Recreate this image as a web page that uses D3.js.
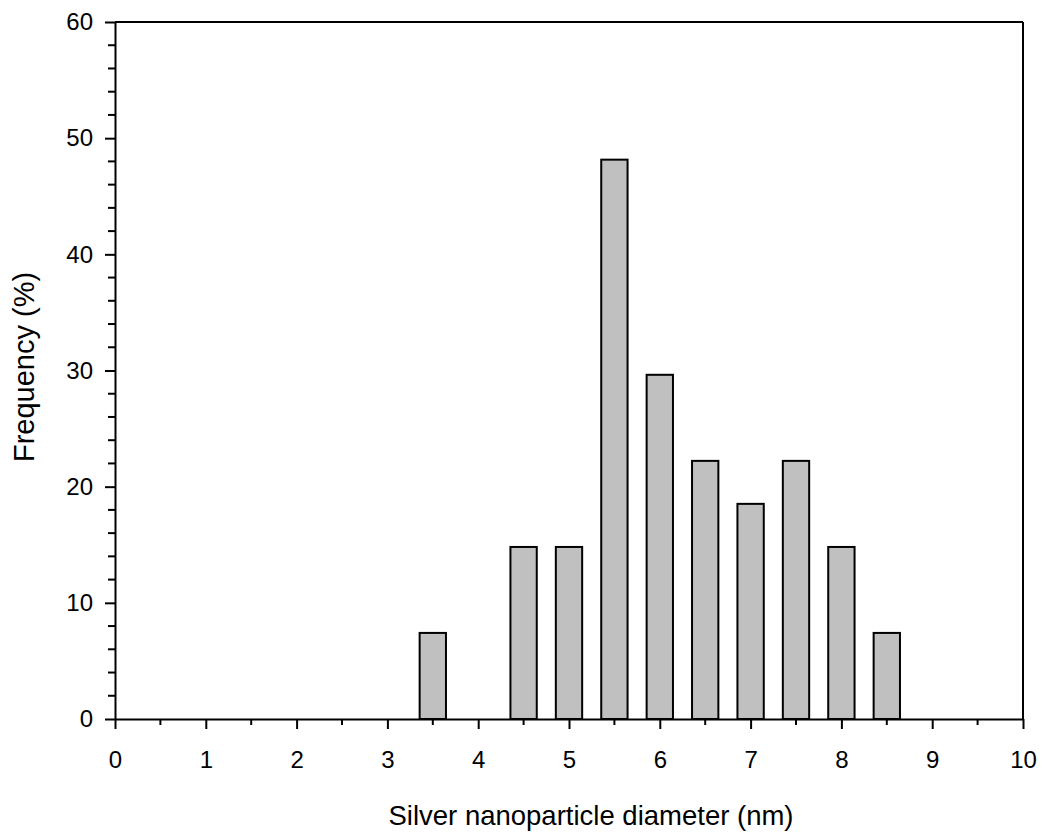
<!DOCTYPE html>
<html>
<head>
<meta charset="utf-8">
<script src="https://cdn.jsdelivr.net/npm/d3@7"></script>
<style>
  html, body { margin: 0; padding: 0; background: #fff; }
  svg { display: block; }
  text { font-family: "Liberation Sans", Arial, sans-serif; fill: #000; }
</style>
</head>
<body>
<svg id="chart" width="1043" height="837"></svg>
<script>
// Data
const diameters = [3.5, 4.5, 5.0, 5.5, 6.0, 6.5, 7.0, 7.5, 8.0, 8.5];
const frequencies = [7.41, 14.81, 14.81, 48.15, 29.63, 22.22, 18.52, 22.22, 14.81, 7.41];
const xTicks = [0,1,2,3,4,5,6,7,8,9,10];
const yTicks = [0,10,20,30,40,50,60];
const xLabel = "Silver nanoparticle diameter (nm)";
const yLabel = "Frequency (%)";

const svg = d3.select("#chart");
const mLeft = 115, mRight = 1023, mTop = 22, mBottom = 719;

const x = d3.scaleLinear().domain([0, 10]).range([mLeft, mRight]);
const y = d3.scaleLinear().domain([0, 60]).range([mBottom, mTop]);
const barW = 0.29;

// bars
svg.append("g").selectAll("rect")
  .data(diameters.map((d, i) => ({d, f: frequencies[i]})))
  .join("rect")
  .attr("x", o => x(o.d - barW / 2))
  .attr("width", o => x(o.d + barW / 2) - x(o.d - barW / 2))
  .attr("y", o => y(o.f))
  .attr("height", o => y(0) - y(o.f))
  .attr("fill", "#c0c0c0")
  .attr("stroke", "#000")
  .attr("stroke-width", 2);

// frame top & right
svg.append("line").attr("x1", mLeft).attr("x2", mRight).attr("y1", mTop).attr("y2", mTop)
  .attr("stroke", "#000").attr("stroke-width", 2);
svg.append("line").attr("x1", mRight).attr("x2", mRight).attr("y1", mTop).attr("y2", mBottom)
  .attr("stroke", "#000").attr("stroke-width", 2);

// x axis minor ticks
const xMinor = d3.range(0.5, 10, 1);
svg.append("g").selectAll("line").data(xMinor).join("line")
  .attr("x1", d => x(d)).attr("x2", d => x(d))
  .attr("y1", mBottom).attr("y2", mBottom + 6)
  .attr("stroke", "#000").attr("stroke-width", 2);

// y axis minor ticks
const yMinor = d3.range(0, 60, 2).filter(v => v % 10 !== 0);
svg.append("g").selectAll("line").data(yMinor).join("line")
  .attr("x1", mLeft - 7).attr("x2", mLeft)
  .attr("y1", d => y(d)).attr("y2", d => y(d))
  .attr("stroke", "#000").attr("stroke-width", 2);

// axes
const xAxis = svg.append("g").attr("transform", `translate(0,${mBottom})`)
  .call(d3.axisBottom(x).tickValues(xTicks).tickSize(10).tickSizeOuter(0).tickPadding(22).tickFormat(d3.format("d")));
const yAxis = svg.append("g").attr("transform", `translate(${mLeft},0)`)
  .call(d3.axisLeft(y).tickValues(yTicks).tickSize(10).tickSizeOuter(0).tickPadding(12).tickFormat(d3.format("d")));

[xAxis, yAxis].forEach(g => {
  g.select(".domain").attr("stroke", "#000").attr("stroke-width", 2);
  g.selectAll(".tick line").attr("stroke", "#000").attr("stroke-width", 2);
  g.selectAll(".tick text").attr("font-size", 24).attr("font-family", "Liberation Sans, Arial, sans-serif").attr("fill", "#000");
});

// axis titles
svg.append("text").attr("x", 591).attr("y", 825)
  .attr("text-anchor", "middle").attr("font-size", 27.5).text(xLabel);
svg.append("text").attr("transform", `translate(34,367) rotate(-90)`)
  .attr("text-anchor", "middle").attr("font-size", 29).text(yLabel);
</script>
</body>
</html>
